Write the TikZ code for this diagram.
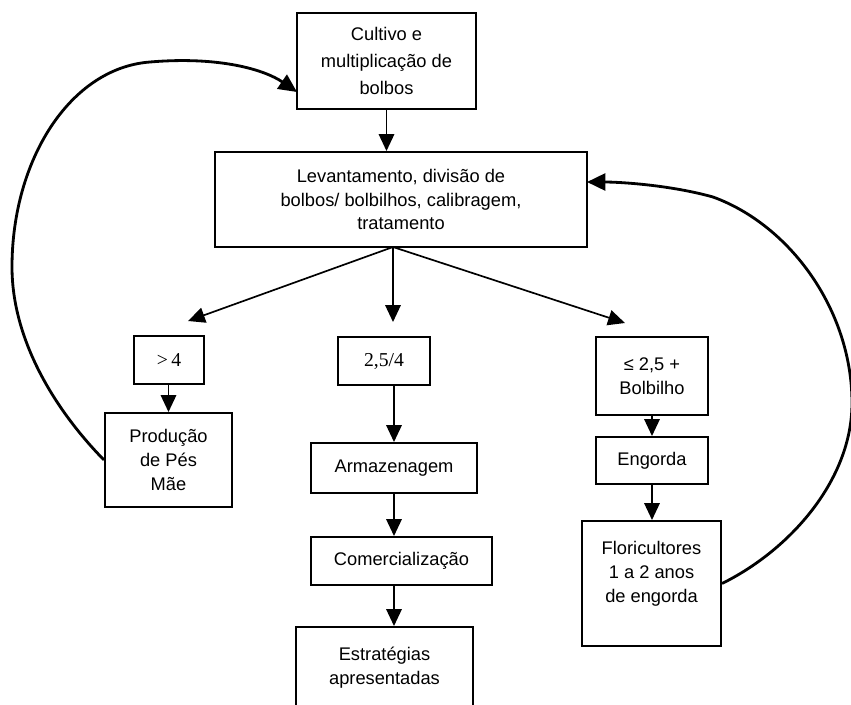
\documentclass[tikz,border=0pt]{standalone}
\usepackage{fontspec}
\setmainfont{Liberation Sans}
\newfontfamily\timesfont{Liberation Serif}
\usetikzlibrary{arrows.meta}
\tikzset{
  box/.style={draw, line width=1.4pt, inner sep=0pt, align=center, font=\fontsize{13}{17}\selectfont},
  flow/.style={line width=1.2pt, -{Triangle[length=12pt,width=11pt]}},
  loopline/.style={line width=2pt, -{Triangle[length=13pt,width=12pt]}},
}

\begin{document}
\begin{tikzpicture}[x=0.025cm, y=-0.025cm]
        \useasboundingbox (0,0) rectangle (851,705);

        % top of the flow
        \node[box, font=\fontsize{13}{19}\selectfont, minimum width=4.475cm, minimum height=2.4cm] (cult) at (386.5,61) {Cultivo e\\ multiplicação de\\ bolbos};
        \node[box, minimum width=9.3cm, minimum height=2.375cm] (lev) at (401,199.5) {Levantamento, divisão de\\ bolbos/ bolbilhos, calibragem,\\ tratamento};

        % the three sizes
        \node[box, font=\timesfont\fontsize{14}{17}\selectfont, minimum width=1.75cm, minimum height=1.2cm] (gt4) at (169,360) {>\,4};
        \node[box, font=\timesfont\fontsize{14}{17}\selectfont, minimum width=2.3cm, minimum height=1.2cm] (mid) at (384,361) {2,5/4};
        \node[box, minimum width=2.8cm, minimum height=1.95cm] (le) at (652,376) {≤ 2,5 +\\ Bolbilho};

        \node[box, minimum width=3.175cm, minimum height=2.35cm] (pes) at (168.5,460) {Produção\\ de Pés\\ Mãe};
        \node[box, minimum width=4.15cm, minimum height=1.25cm] (arm) at (394,468) {Armazenagem};
        \node[box, minimum width=4.525cm, minimum height=1.2cm] (com) at (401.5,561) {Comercialização};
        \node[box, minimum width=4.425cm, minimum height=2.05cm] (est) at (384.5,668) {Estratégias\\ apresentadas};
        \node[box, minimum width=2.8cm, minimum height=1.175cm] (eng) at (652,460.5) {Engorda};
        \node[box, minimum width=3.475cm, minimum height=3.125cm] (flo) at (651.5,583.5) {Floricultores\\ 1 a 2 anos\\ de engorda\\ \mbox{}};

        \coordinate (fork) at (393,247);
        \coordinate (tipL) at (188,321);
        \coordinate (tipM) at (393,322);
        \coordinate (tipR) at (625,323);
        \coordinate (cultin) at (297,92);
        \coordinate (levin) at (587,182);

        % straight arrows
        \draw[flow] (cult.south) -- (cult.south |- lev.north);
        \draw[flow] (fork) -- (tipL);
        \draw[flow] (fork) -- (tipM);
        \draw[flow] (fork) -- (tipR);
        \draw[flow] (gt4.south -| pes.north) -- (pes.north);
        \draw[flow] (mid.south -| arm.north) -- (arm.north);
        \draw[flow] (arm.south) -- (arm.south |- com.north);
        \draw[flow] (com.south -| arm.south) -- (arm.south |- est.north);
        \draw[flow] (le.south) -- (eng.north);
        \draw[flow] (eng.south) -- (eng.south |- flo.north);

        % loops back
        \draw[loopline] (pes.west) .. controls (55,410) and (12,340) .. (12,267)
                .. controls (12,160) and (70,68) .. (150,62)
                .. controls (220,56) and (265,70) .. (cultin);
        \draw[loopline] (flo.east) .. controls (790,550) and (852,480) .. (852,403)
                .. controls (852,310) and (790,225) .. (713,197)
                .. controls (670,185) and (620,182) .. (levin);
\end{tikzpicture}
\end{document}
